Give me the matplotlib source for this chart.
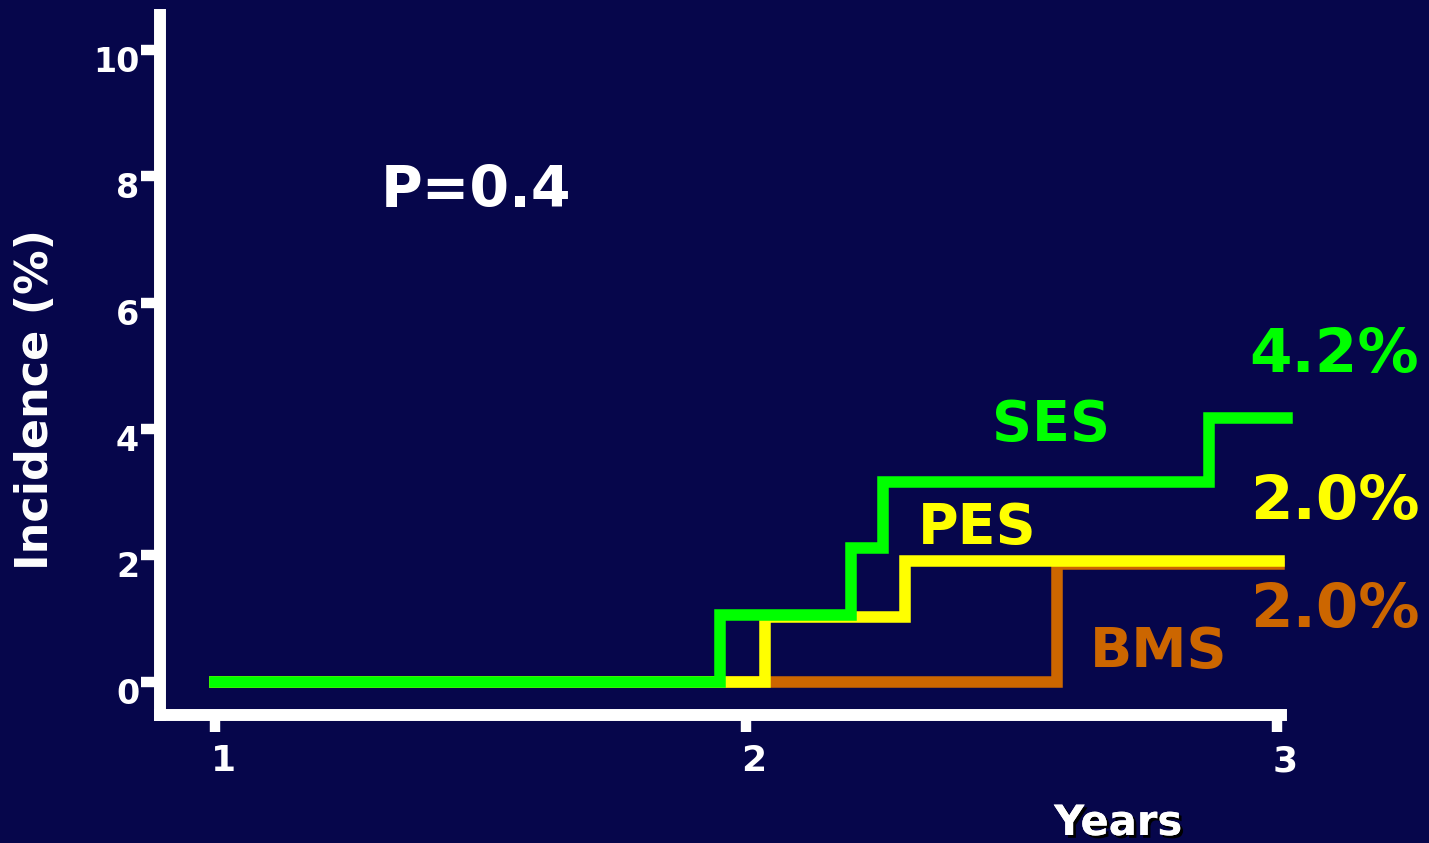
import numpy as np
import matplotlib.pyplot as plt
import matplotlib.transforms as mtrans
import matplotlib.patheffects as pe

# Kaplan-Meier style step data (years, incidence %)
ses_years = [1.0, 1.951, 2.197, 2.259, 2.872, 3.02]
ses_inc = [0.0, 1.06, 2.12, 3.16, 4.18, 4.18]
pes_years = [1.0, 2.036, 2.299, 3.005]
pes_inc = [0.0, 1.02, 1.91, 1.91]
bms_years = [1.0, 2.586, 3.005]
bms_inc = [0.0, 1.87, 1.87]

xticks = [1, 2, 3]
yticks = [0, 2, 4, 6, 8, 10]
final_labels = ['4.2%', '2.0%', '2.0%']

bg = '#06064b'
green = '#00ff00'
yellow = '#ffff00'
orange = '#cc6600'

plt.rcParams['font.family'] = 'DejaVu Sans'
plt.rcParams['font.weight'] = 'bold'

fig = plt.figure(figsize=(14.29, 8.43), dpi=100, facecolor=bg)
ax = fig.add_axes([160 / 1429, 128 / 843, 1121 / 1429, 700 / 843])
ax.set_facecolor(bg)

lw = 8.3
ax.step(bms_years, bms_inc, where='post', color=orange, lw=lw, clip_on=False,
        solid_joinstyle='miter')
ax.step(pes_years, pes_inc, where='post', color=yellow, lw=lw, clip_on=False,
        solid_joinstyle='miter')
ax.step(ses_years, ses_inc, where='post', color=green, lw=lw, clip_on=False,
        solid_joinstyle='miter')

ax.set_xlim(0.896, 3.008)
ax.set_ylim(-0.525, 10.55)

for s in ['top', 'right']:
    ax.spines[s].set_visible(False)
for s in ['left', 'bottom']:
    ax.spines[s].set_color('white')
    ax.spines[s].set_linewidth(8.6)
    ax.spines[s].set_capstyle('projecting')

ax.set_xticks(xticks)
ax.set_yticks(yticks)
ax.tick_params(axis='y', colors='white', length=14, width=7.5, pad=1,
               labelsize=24)
ax.tick_params(axis='x', colors='white', length=12, width=7.5, pad=9,
               labelsize=26)
for lab in ax.get_yticklabels():
    lab.set_fontweight('bold')
    lab.set_transform(lab.get_transform() +
                      mtrans.ScaledTranslation(0, -0.09, fig.dpi_scale_trans))
for lab in ax.get_xticklabels():
    lab.set_fontweight('bold')
    lab.set_transform(lab.get_transform() +
                      mtrans.ScaledTranslation(0.08, 0, fig.dpi_scale_trans))

# axis titles
fig.text(36 / 1429, 1 - 400 / 843, 'Incidence (%)', rotation=90, color='white',
         fontsize=32, fontweight='bold', ha='center', va='center')
fig.text(1118 / 1429, 1 - 835 / 843, 'Years', color='white', fontsize=30,
         fontweight='bold', ha='center', va='baseline',
         path_effects=[pe.withSimplePatchShadow(offset=(2, -2),
                                                shadow_rgbFace='black',
                                                alpha=1.0),
                       pe.Normal()])

# annotations
ax.text(1.311, 7.52, 'P=0.4', color='white', fontsize=41, fontweight='bold',
        ha='left', va='baseline')
ax.text(2.463, 3.83, 'SES', color=green, fontsize=40, fontweight='bold',
        ha='left', va='baseline')
ax.text(2.324, 2.20, 'PES', color=yellow, fontsize=40, fontweight='bold',
        ha='left', va='baseline')
ax.text(2.648, 0.237, 'BMS', color=orange, fontsize=40, fontweight='bold',
        ha='left', va='baseline')
for lab, yy, c in zip(final_labels, [4.905, 2.58, 0.87], [green, yellow, orange]):
    ax.text(2.949, yy, lab, color=c, fontsize=44, fontweight='bold',
            ha='left', va='baseline', clip_on=False)

fig.savefig('out.png', dpi=100, facecolor=bg)
